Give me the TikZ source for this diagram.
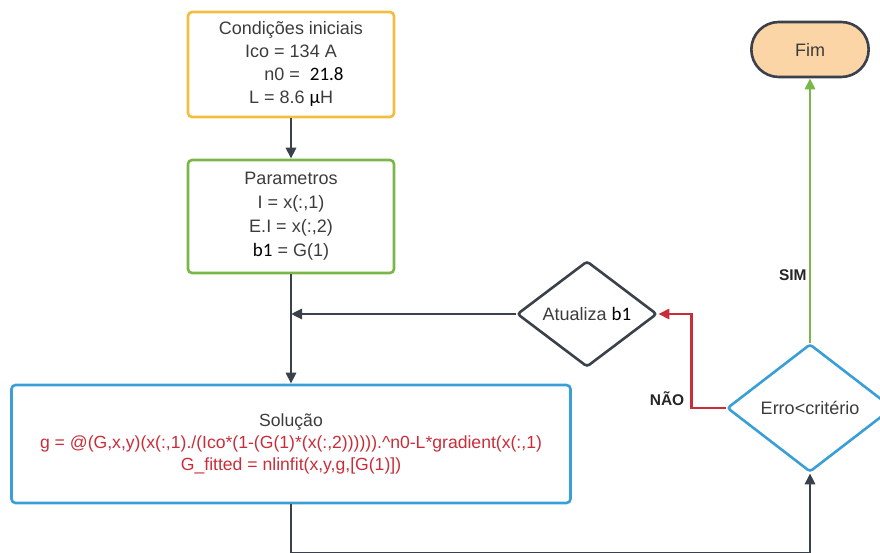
\documentclass[tikz,border=0pt]{standalone}
\usepackage{fontspec}
\setmainfont{Liberation Sans}
\newfontfamily\calib{Carlito}
\usetikzlibrary{arrows.meta}
\usetikzlibrary{calc,positioning,arrows,shapes.geometric,shapes.misc}

\definecolor{boxyellow}{HTML}{F3BE3F}
\definecolor{boxgreen}{HTML}{7AB648}
\definecolor{boxblue}{HTML}{3A9FD6}
\definecolor{linered}{HTML}{C92D39}
\definecolor{linegray}{HTML}{3A414A}
\definecolor{txtgray}{HTML}{3C3C3C}
\definecolor{fimfill}{HTML}{FCD5A6}

\begin{document}
\begin{tikzpicture}[x=1pt, y=-1pt, node distance=152pt, auto,
  >={Triangle[length=11pt,width=10pt]},
  box/.style={draw, rectangle, rounded corners=4pt, line width=2.6pt, align=center,
    text=txtgray, font=\fontsize{18}{23}\selectfont},
  decision/.style={draw, diamond, rounded corners=3pt, line width=2.6pt, align=center,
    text=txtgray, inner sep=0pt, font=\fontsize{18}{20}\selectfont},
  terminal/.style={draw=linegray, rounded rectangle, fill=fimfill, line width=2.6pt,
    text=txtgray, minimum width=124pt, minimum height=55pt, font=\fontsize{18}{20}\selectfont},
  conn/.style={draw=linegray, line width=2.8pt},
  lbl/.style={font=\fontsize{15.5}{17}\selectfont\bfseries, text=black!85}]
  \useasboundingbox (0,0) rectangle (880,553);

  \node[box, draw=boxyellow, minimum width=206pt, minimum height=105pt] (CI) at (291,64.5)
    {Condições iniciais\\Ico = 134 A\\\hspace{26pt}n0 = \ {\calib\color{black}\fontsize{19}{23}\selectfont 21.8}\\L = 8.6 {\calib\color{black}\fontsize{19}{23}\selectfont µ}H};
  \node[box, draw=boxgreen, below of=CI, minimum width=206pt, minimum height=113pt,
    font=\fontsize{18}{24}\selectfont] (PAR)
    {Parametros\\I = x(:,1)\\E.I = x(:,2)\\{\calib\color{black}\fontsize{19}{24}\selectfont b1} = G(1)};
  \node[box, draw=boxblue, below of=PAR, node distance=227.5pt, minimum width=559pt, minimum height=118pt,
    font=\fontsize{17.6}{22}\selectfont] (SOL)
    {Solução\\\color{linered}g = @(G,x,y)(x(:,1)./(Ico*(1-(G(1)*(x(:,2)))))).\textasciicircum n0-L*gradient(x(:,1)\\
     \color{linered}G\_fitted = nlinfit(x,y,g,[G(1)])};

  \node[decision, draw=linegray, minimum width=140pt, minimum height=106pt] (ATU) at (587,314)
    {Atualiza {\calib\color{black}\fontsize{19}{20}\selectfont b1}};
  \node[decision, draw=boxblue, minimum width=166pt, minimum height=128pt] (ERR) at (810,408)
    {Erro<critério};
  \node[terminal] (FIM) at (810,49.5) {Fim};

  \draw[conn, ->] (CI) to (PAR);
  \draw[conn, ->] (PAR) to (SOL);
  \draw[conn, ->] (ATU.west) to (ATU.west -| SOL.north);
  \draw[conn, draw=linered, ->] (ERR.west) -- ++(-34,0)
    node[lbl, anchor=south east, inner sep=1pt, xshift=-5pt] {NÃO} |- (ATU.east);
  \draw[conn, draw=boxgreen, ->] (ERR.north) to
    node[lbl, fill=white, pos=0.257, inner sep=2pt] {SIM} (FIM.south);
  \draw[conn, ->] (SOL.south) -- ++(0,49) -| (ERR.south);

\end{tikzpicture}
\end{document}
